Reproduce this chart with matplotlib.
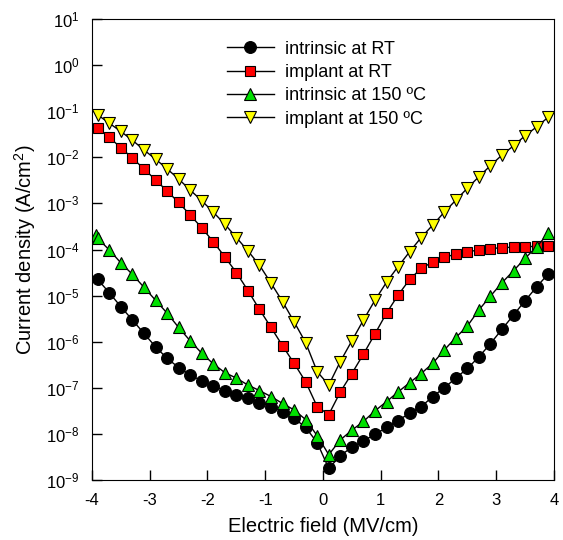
import numpy as np
import matplotlib
matplotlib.use('Agg')
import matplotlib.pyplot as plt
from matplotlib import ticker

plt.rcParams['font.family'] = ['Liberation Sans', 'DejaVu Sans']
plt.rcParams['mathtext.fontset'] = 'custom'
plt.rcParams['mathtext.rm'] = 'Liberation Sans'
plt.rcParams['mathtext.it'] = 'Liberation Sans:italic'
plt.rcParams['mathtext.bf'] = 'Liberation Sans:bold'
plt.rcParams['axes.unicode_minus'] = False

# electric field (MV/cm), measured points every 0.2 MV/cm
field = [-3.9, -3.7, -3.5, -3.3, -3.1, -2.9, -2.7, -2.5, -2.3, -2.1,
         -1.9, -1.7, -1.5, -1.3, -1.1, -0.9, -0.7, -0.5, -0.3, -0.1,
         0.1, 0.3, 0.5, 0.7, 0.9, 1.1, 1.3, 1.5, 1.7, 1.9,
         2.1, 2.3, 2.5, 2.7, 2.9, 3.1, 3.3, 3.5, 3.7, 3.9]
field_intr_150 = [-3.93] + field

# log10 of current density (A/cm2)
log_intr_rt = [-4.65, -4.94, -5.24, -5.53, -5.82, -6.11, -6.36, -6.56, -6.72, -6.85,
               -6.96, -7.06, -7.15, -7.23, -7.32, -7.41, -7.52, -7.66, -7.86, -8.19,
               -8.75, -8.47, -8.29, -8.15, -8.01, -7.86, -7.71, -7.55, -7.41, -7.19,
               -7.00, -6.79, -6.58, -6.33, -6.04, -5.73, -5.42, -5.11, -4.81, -4.53]
log_impl_rt = [-1.37, -1.57, -1.79, -2.02, -2.25, -2.49, -2.73, -2.98, -3.25, -3.53,
               -3.83, -4.16, -4.50, -4.89, -5.30, -5.69, -6.09, -6.47, -6.87, -7.41,
               -7.58, -7.09, -6.69, -6.27, -5.83, -5.38, -4.99, -4.65, -4.41, -4.27,
               -4.17, -4.10, -4.05, -4.01, -3.98, -3.96, -3.95, -3.94, -3.93, -3.92]
log_intr_150 = [-3.69,
                -3.76, -4.01, -4.29, -4.54, -4.82, -5.10, -5.38, -5.69, -5.98, -6.25,
                -6.48, -6.67, -6.79, -6.94, -7.06, -7.19, -7.34, -7.48, -7.69, -8.04,
                -8.45, -8.13, -7.92, -7.73, -7.50, -7.30, -7.09, -6.89, -6.69, -6.47,
                -6.18, -5.91, -5.66, -5.31, -5.01, -4.72, -4.46, -4.19, -3.94, -3.65]
log_impl_150 = [-1.08, -1.26, -1.44, -1.63, -1.84, -2.04, -2.25, -2.47, -2.71, -2.94,
                -3.19, -3.45, -3.74, -4.03, -4.34, -4.73, -5.13, -5.57, -6.02, -6.65,
                -6.94, -6.43, -5.98, -5.53, -5.10, -4.71, -4.37, -4.05, -3.74, -3.47,
                -3.19, -2.93, -2.67, -2.42, -2.18, -1.95, -1.75, -1.53, -1.34, -1.13]

fig = plt.figure(figsize=(5.63, 5.4), dpi=100)
ax = fig.add_axes([0.1634, 0.1111, 0.8206, 0.8537])

ax.plot(field, 10 ** np.array(log_intr_rt), '-o', color='black', lw=1,
        mfc='black', mec='black', ms=8.5, mew=0.8, label='intrinsic at RT')
ax.plot(field, 10 ** np.array(log_impl_rt), '-s', color='black', lw=1,
        mfc='#ff0000', mec='black', ms=7, mew=0.8, label='implant at RT')
ax.plot(field_intr_150, 10 ** np.array(log_intr_150), '-^', color='black', lw=1,
        mfc='#00e000', mec='black', ms=8.5, mew=0.8, label='intrinsic at 150 ºC')
ax.plot(field, 10 ** np.array(log_impl_150), '-v', color='black', lw=1,
        mfc='#ffff00', mec='black', ms=8.5, mew=0.8, label='implant at 150 ºC')

ax.set_yscale('log')
ax.set_xlim(-4, 4)
ax.set_ylim(1e-9, 1e1)
ax.set_xticks(range(-4, 5))
ax.yaxis.set_major_locator(ticker.LogLocator(base=10, numticks=20))
ax.yaxis.set_minor_locator(ticker.NullLocator())
ax.yaxis.set_major_formatter(ticker.LogFormatterMathtext())
ax.tick_params(direction='in', length=7, width=1, labelsize=12, pad=9)

ax.set_xlabel('Electric field (MV/cm)', fontsize=14.5, labelpad=7)
ax.set_ylabel('Current density (A/cm$^2$)', fontsize=14.5, labelpad=6)

ax.legend(loc='upper left', bbox_to_anchor=(0.292, 0.953), frameon=False,
          fontsize=13, handlelength=2.6, handletextpad=0.6, labelspacing=0.35,
          borderpad=0, borderaxespad=0)

fig.savefig('out.png', dpi=100)
